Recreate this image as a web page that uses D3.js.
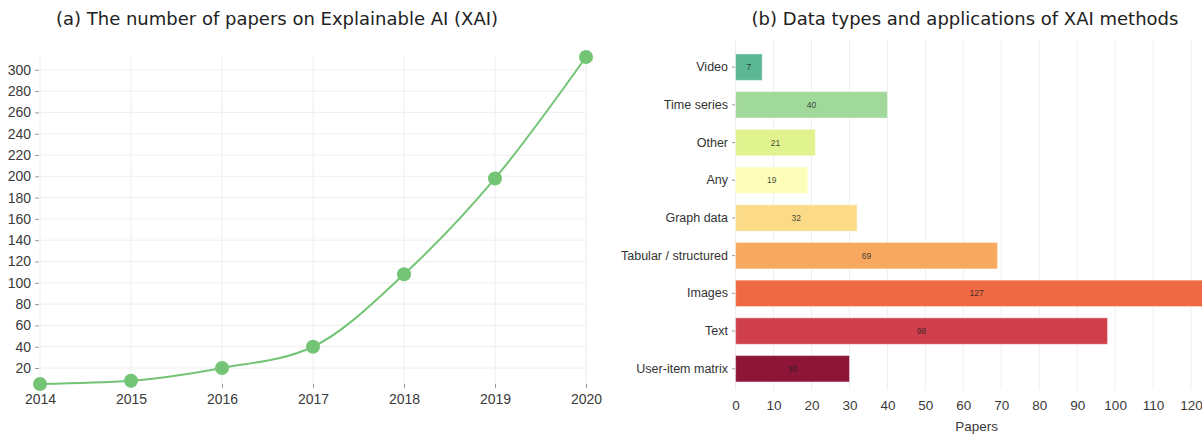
<!DOCTYPE html>
<html>
<head>
<meta charset="utf-8">
<script src="https://cdn.jsdelivr.net/npm/d3@7"></script>
<style>
  html, body { margin: 0; padding: 0; background: #fff; }
  svg { display: block; }
</style>
</head>
<body>
<svg id="chart" width="1202" height="437"></svg>
<script>
// ---- Data ----
const years = [2014, 2015, 2016, 2017, 2018, 2019, 2020];
const paperCounts = [5, 8, 20, 40, 108, 198, 312];
const yTicksLeft = [20, 40, 60, 80, 100, 120, 140, 160, 180, 200, 220, 240, 260, 280, 300];

const dataTypes = ["Video", "Time series", "Other", "Any", "Graph data", "Tabular / structured", "Images", "Text", "User-item matrix"];
const typeCounts = [7, 40, 21, 19, 32, 69, 127, 98, 30];
const typeColors = ["#5bb795", "#a1d99b", "#e1f38f", "#fefebb", "#fbdb87", "#f8a95f", "#ef6a43", "#d03f4c", "#8e1538"];
const xTicksRight = [0, 10, 20, 30, 40, 50, 60, 70, 80, 90, 100, 110, 120];

const titleLeft = "(a) The number of papers on Explainable AI (XAI)";
const titleRight = "(b) Data types and applications of XAI methods";
const xLabelRight = "Papers";

const svg = d3.select("#chart");

// ---- Titles ----
svg.append("text").attr("x", 277).attr("y", 25).attr("text-anchor", "middle")
  .style("font-family", "DejaVu Sans").style("font-size", "18px").attr("fill", "#222")
  .text(titleLeft);
svg.append("text").attr("x", 965).attr("y", 25).attr("text-anchor", "middle")
  .style("font-family", "DejaVu Sans").style("font-size", "18px").attr("fill", "#222")
  .text(titleRight);

// ---- Left chart ----
const xL = d3.scalePoint().domain(years).range([40, 586]);
const yL = d3.scaleLinear().domain(d3.extent(paperCounts)).range([384, 57]);
const gL = svg.append("g");

// grid
gL.append("g").selectAll("line").data(yTicksLeft).join("line")
  .attr("x1", 40).attr("x2", 586).attr("y1", d => yL(d)).attr("y2", d => yL(d))
  .attr("stroke", "#eee").attr("stroke-width", 1);
gL.append("g").selectAll("line").data(years).join("line")
  .attr("x1", d => xL(d)).attr("x2", d => xL(d)).attr("y1", 57).attr("y2", 384)
  .attr("stroke", "#eee").attr("stroke-width", 1);

// y axis
const yAxisL = gL.append("g").attr("transform", "translate(39,0)")
  .call(d3.axisLeft(yL).tickValues(yTicksLeft).tickSize(4).tickPadding(4));
yAxisL.select(".domain").remove();
yAxisL.selectAll("line").attr("stroke", "#999");
yAxisL.selectAll("text").style("font-family", "Liberation Sans").style("font-size", "14px").attr("fill", "#3a3a3a");

// x axis
const xAxisL = gL.append("g").attr("transform", "translate(0,384)")
  .call(d3.axisBottom(xL).tickSize(4).tickPadding(6).tickFormat(d3.format("d")));
xAxisL.select(".domain").remove();
xAxisL.selectAll("line").attr("stroke", "#999");
xAxisL.selectAll("text").style("font-family", "Liberation Sans").style("font-size", "14px").attr("fill", "#3a3a3a");

// line
const pts = years.map((y, i) => [y, paperCounts[i]]);
gL.append("path").datum(pts)
  .attr("fill", "none").attr("stroke", "#74c476").attr("stroke-width", 2)
  .attr("d", d3.line().x(d => xL(d[0])).y(d => yL(d[1])).curve(d3.curveMonotoneX));
gL.append("g").selectAll("circle").data(pts).join("circle")
  .attr("cx", d => xL(d[0])).attr("cy", d => yL(d[1])).attr("r", 7)
  .attr("fill", "#74c476");

// ---- Right chart ----
const xR = d3.scaleLinear().domain([0, d3.max(typeCounts)]).range([735.6, 1217.6]);
const yR = d3.scaleBand().domain(dataTypes).range([48.3, 387.6]).paddingInner(0.3).paddingOuter(0.15);
const gR = svg.append("g");

gR.append("g").selectAll("line").data(xTicksRight).join("line")
  .attr("x1", d => xR(d)).attr("x2", d => xR(d)).attr("y1", 40).attr("y2", 390)
  .attr("stroke", "#eee").attr("stroke-width", 1);

const xAxisR = gR.append("g").attr("transform", "translate(0,390)")
  .call(d3.axisBottom(xR).tickValues(xTicksRight).tickSize(0).tickPadding(10));
xAxisR.select(".domain").remove();
xAxisR.selectAll("text").style("font-family", "Liberation Sans").style("font-size", "13.5px").attr("fill", "#3a3a3a");

gR.append("text").attr("x", (xR.range()[0] + xR.range()[1]) / 2).attr("y", 431)
  .attr("text-anchor", "middle").style("font-family", "Liberation Sans").style("font-size", "13.5px")
  .attr("fill", "#3a3a3a").text(xLabelRight);

const yAxisR = gR.append("g").attr("transform", "translate(735,0)")
  .call(d3.axisLeft(yR).tickSize(3).tickPadding(4));
yAxisR.select(".domain").remove();
yAxisR.selectAll("line").attr("stroke", "#999");
yAxisR.selectAll("text").style("font-family", "Liberation Sans").style("font-size", "12.5px").attr("fill", "#333");

const rows = dataTypes.map((t, i) => ({ t, v: typeCounts[i], c: typeColors[i] }));
gR.append("g").selectAll("rect").data(rows).join("rect")
  .attr("x", xR(0)).attr("y", d => yR(d.t)).attr("width", d => xR(d.v) - xR(0)).attr("height", yR.bandwidth())
  .attr("fill", d => d.c).attr("stroke", "#fff").attr("stroke-opacity", 0.4).attr("stroke-width", 1);
gR.append("g").selectAll("text").data(rows).join("text")
  .attr("x", d => xR(d.v / 2)).attr("y", d => yR(d.t) + yR.bandwidth() / 2).attr("dy", "0.35em")
  .attr("text-anchor", "middle").style("font-family", "Liberation Sans").style("font-size", "8.5px")
  .attr("fill", "#222").attr("fill-opacity", 0.85).text(d => d.v);
</script>
</body>
</html>
